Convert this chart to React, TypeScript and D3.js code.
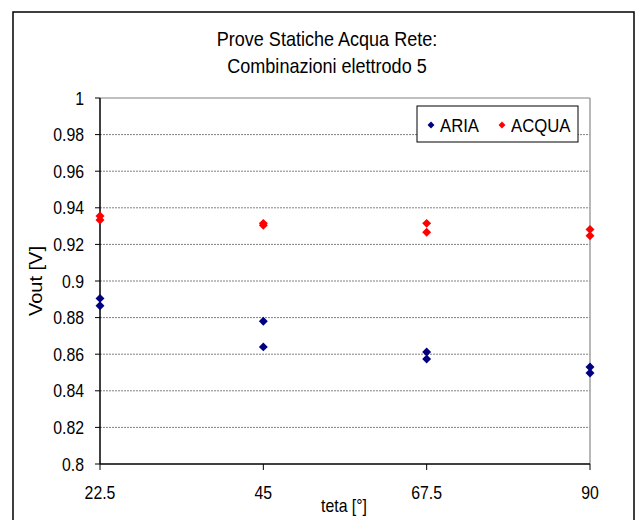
import { useMemo } from 'react';
import * as d3 from 'd3';

const thetaTicks = [22.5, 45, 67.5, 90];
const yTicks = [0.8, 0.82, 0.84, 0.86, 0.88, 0.9, 0.92, 0.94, 0.96, 0.98, 1];

// two repeated readings per angle
const ariaTheta = [22.5, 22.5, 45, 45, 67.5, 67.5, 90, 90];
const ariaVout = [0.8905, 0.8865, 0.878, 0.864, 0.8612, 0.8574, 0.853, 0.8497];
const acquaTheta = [22.5, 22.5, 45, 45, 67.5, 67.5, 90, 90];
const acquaVout = [0.9355, 0.9333, 0.9315, 0.9305, 0.9315, 0.9266, 0.9282, 0.9247];

const W = 642;
const H = 520;
const FONT = '"Liberation Sans", Arial, sans-serif';
const SX = 0.88; // the original text is a bit squeezed sideways

// Excel style diamond: a square turned 45 degrees
const diamond = d3.symbol(d3.symbolSquare, 40)() ?? '';
const legendDiamond = d3.symbol(d3.symbolSquare, 24)() ?? '';

function T({ x, y, size, anchor = 'start', children }: {
  x: number; y: number; size: number; anchor?: string; children: React.ReactNode;
}) {
  return (
    <text transform={`translate(${x},${y}) scale(${SX},1)`} textAnchor={anchor}
      fontFamily={FONT} fontSize={size} fill="#000">
      {children}
    </text>
  );
}

export default function App() {
  const x = useMemo(() => d3.scaleLinear().domain([22.5, 90]).range([100, 590]), []);
  const y = useMemo(() => d3.scaleLinear().domain([0.8, 1]).range([464, 98]), []);

  const series = [
    { name: 'ARIA', color: '#000080', xs: ariaTheta, ys: ariaVout },
    { name: 'ACQUA', color: '#FF0000', xs: acquaTheta, ys: acquaVout },
  ];

  return (
    <svg width={W} height={H} style={{ position: 'absolute', left: 0, top: 0, background: '#fff' }}>
      <rect x={13} y={12} width={621} height={H} fill="#fff" stroke="#000" strokeWidth={1.5} />

      <T x={327} y={46} size={20.5} anchor="middle">Prove Statiche Acqua Rete:</T>
      <T x={327} y={73} size={20.5} anchor="middle">Combinazioni elettrodo 5</T>

      {/* gridlines */}
      {yTicks.filter(t => t > 0.8).map(t => (
        <line key={t} x1={x(22.5)} x2={x(90)} y1={y(t)} y2={y(t)}
          stroke="#808080" strokeWidth={1} strokeDasharray={t === 1 ? undefined : '2 1'} />
      ))}
      <line x1={x(90)} x2={x(90)} y1={y(1)} y2={y(0.8)} stroke="#a0a0a0" strokeWidth={1.5} />

      {/* y axis */}
      <line x1={x(22.5)} x2={x(22.5)} y1={y(1)} y2={y(0.8)} stroke="#000" strokeWidth={1.5} />
      {yTicks.map(t => (
        <g key={t}>
          <line x1={x(22.5) - 5} x2={x(22.5)} y1={y(t)} y2={y(t)} stroke="#000" strokeWidth={1} />
          <T x={x(22.5) - 16} y={y(t) + 6.5} size={18} anchor="end">
            {String(+t.toFixed(2))}
          </T>
        </g>
      ))}

      {/* x axis */}
      <line x1={x(22.5)} x2={x(90)} y1={y(0.8)} y2={y(0.8)} stroke="#000" strokeWidth={1.5} />
      {thetaTicks.map(t => (
        <g key={t}>
          <line x1={x(t)} x2={x(t)} y1={y(0.8)} y2={y(0.8) + 6} stroke="#000" strokeWidth={1} />
          <T x={x(t)} y={499} size={18} anchor="middle">{String(t)}</T>
        </g>
      ))}

      <T x={344} y={512} size={18} anchor="middle">teta [°]</T>
      <text transform={`translate(42,${y(0.9)}) scale(${SX},1) rotate(-90)`} textAnchor="middle"
        fontFamily={FONT} fontSize={20}>
        Vout [V]
      </text>

      {/* points */}
      {series.map(s => (
        <g key={s.name} fill={s.color}>
          {s.xs.map((t, i) => (
            <path key={i} d={diamond} transform={`translate(${x(t)},${y(s.ys[i])}) rotate(45)`} />
          ))}
        </g>
      ))}

      {/* legend */}
      <rect x={417} y={106} width={161} height={36} fill="#fff" stroke="#000" strokeWidth={1} />
      {series.map((s, i) => {
        const lx = [431, 502][i];
        return (
          <g key={s.name}>
            <path d={legendDiamond} transform={`translate(${lx},125) rotate(45)`} fill={s.color} />
            <T x={lx + 9} y={131.5} size={19}>{s.name}</T>
          </g>
        );
      })}
    </svg>
  );
}
